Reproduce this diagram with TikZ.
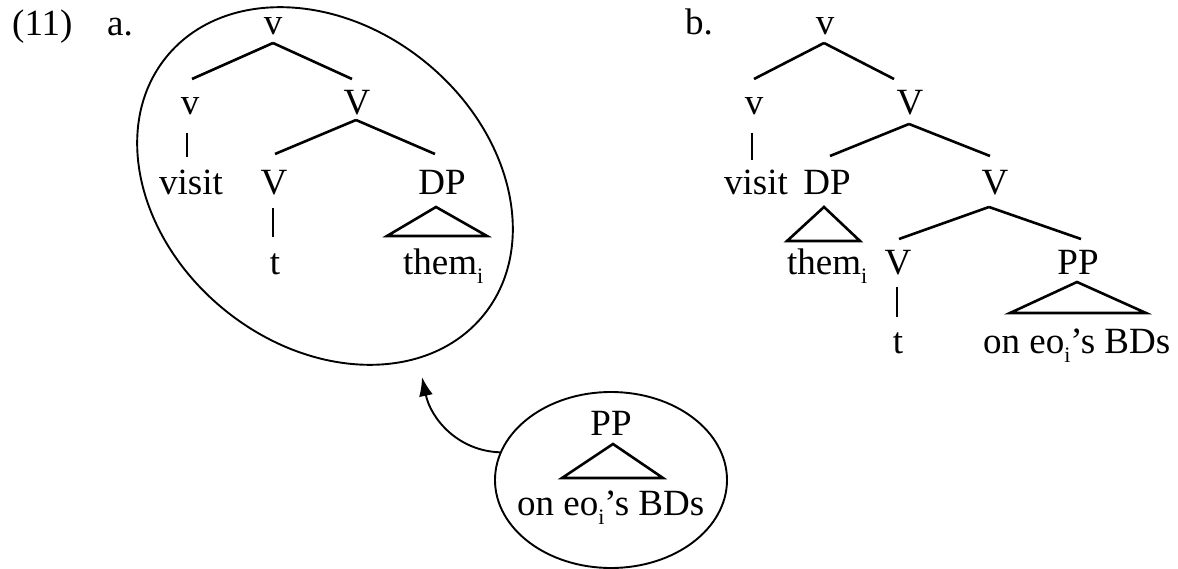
\documentclass[tikz,border=0pt]{standalone}
\usepackage{fontspec}
\setmainfont{Liberation Serif}
\usetikzlibrary{calc,shapes.geometric,arrows.meta}
\newcommand\subi{\raisebox{-9pt}{\fontsize{22}{22}\selectfont i}}
\begin{document}
\begin{tikzpicture}[x=1pt,y=1pt,
  lbl/.style={inner sep=0pt,anchor=base,font=\fontsize{37}{44}\selectfont},
  lblw/.style={lbl,anchor=base west},
  edge/.style={line width=2.6pt,line join=miter},
  ring/.style={draw,line width=1.9pt,ellipse,inner sep=0pt}]
\useasboundingbox (0,0) rectangle (1178,-569);

% ---------- (11) a. ----------
\node[lblw] (n11) at (12,-36) {(11)};
\node[lblw] (la) at (107,-36) {a.};
\node[ring,minimum width=409pt,minimum height=319pt,rotate=-39.2] (big) at (325,-186) {};
\node[lbl] (vA) at (273,-35) {v};
\node[lbl] (vA1) at (190,-115) {v};
\node[lbl] (VA1) at (357,-115) {V};
\node[lbl] (visitA) at (191,-195) {visit};
\node[lbl] (VA2) at (274,-195) {V};
\node[lbl] (DPA) at (442,-195) {DP};
\node[lbl] (tA) at (275,-275) {t};
\node[lblw] (themA) at (403,-275) {them\subi};

\draw[edge] ($(vA.base)+(0,-8)$) -- ($(vA1.base)+(2,36)$);
\draw[edge] ($(vA.base)+(0,-8)$) -- ($(VA1.base)+(-5,36)$);
\draw[edge] ($(vA1.base)+(-3,-18)$) -- ($(visitA.base)+(-4,38)$);
\draw[edge] ($(VA1.base)+(-1,-5)$) -- ($(VA2.base)+(1,41)$);
\draw[edge] ($(VA1.base)+(-1,-5)$) -- ($(DPA.base)+(-7,41)$);
\draw[edge] ($(VA2.base)+(-1,-13)$) -- ($(tA.base)+(-2,38)$);
\draw[edge] ($(DPA.base)+(-6,-12)$) -- ($(DPA.base)+(-55,-41)$) -- ($(DPA.base)+(45,-41)$) -- cycle;

% ---------- small circle ----------
\node[ring,minimum width=232pt,minimum height=176pt] (small) at (611,-480) {};
\node[lbl] (PPs) at (611,-435) {PP};
\node[lblw] (onS) at (517,-515) {on eo\subi’s BDs};
\draw[edge] ($(PPs.base)+(2,-9)$) -- ($(PPs.base)+(-49,-43)$) -- ($(PPs.base)+(52,-43)$) -- cycle;
\coordinate (tip) at (422,-377);
\draw[line width=1.9pt,-{Latex[length=19pt,width=14pt]}] (small.166) to[out=178,in=-78] (tip);

% ---------- b. ----------
\node[lblw] (lb) at (685,-35) {b.};
\node[lbl] (vB) at (825,-35) {v};
\node[lbl] (vB1) at (754,-115) {v};
\node[lbl] (VB1) at (910,-115) {V};
\node[lbl] (visitB) at (756,-195) {visit};
\node[lbl] (DPB) at (827,-195) {DP};
\node[lbl] (VB2) at (995,-195) {V};
\node[lblw] (themB) at (787,-275) {them\subi};
\node[lbl] (VB3) at (898,-275) {V};
\node[lbl] (PPB) at (1078,-275) {PP};
\node[lbl] (tB) at (898,-353) {t};
\node[lblw] (onB) at (983,-353) {on eo\subi’s BDs};

\draw[edge] ($(vB.base)+(-1,-8)$) -- ($(vB1.base)+(0,36)$);
\draw[edge] ($(vB.base)+(-1,-8)$) -- ($(VB1.base)+(-16,36)$);
\draw[edge] ($(vB1.base)+(-2,-18)$) -- ($(visitB.base)+(-4,35)$);
\draw[edge] ($(VB1.base)+(-1,-9)$) -- ($(DPB.base)+(3,39)$);
\draw[edge] ($(VB1.base)+(-1,-9)$) -- ($(VB2.base)+(-5,39)$);
\draw[edge] ($(DPB.base)+(-3,-12)$) -- ($(DPB.base)+(-40,-46)$) -- ($(DPB.base)+(33,-46)$) -- cycle;
\draw[edge] ($(VB2.base)+(-6,-12)$) -- ($(VB3.base)+(1,36)$);
\draw[edge] ($(VB2.base)+(-6,-12)$) -- ($(PPB.base)+(3,36)$);
\draw[edge] ($(VB3.base)+(-1,-12)$) -- ($(tB.base)+(-1,36)$);
\draw[edge] ($(PPB.base)+(-1,-7)$) -- ($(PPB.base)+(-68,-38)$) -- ($(PPB.base)+(68,-38)$) -- cycle;
\end{tikzpicture}
\end{document}
